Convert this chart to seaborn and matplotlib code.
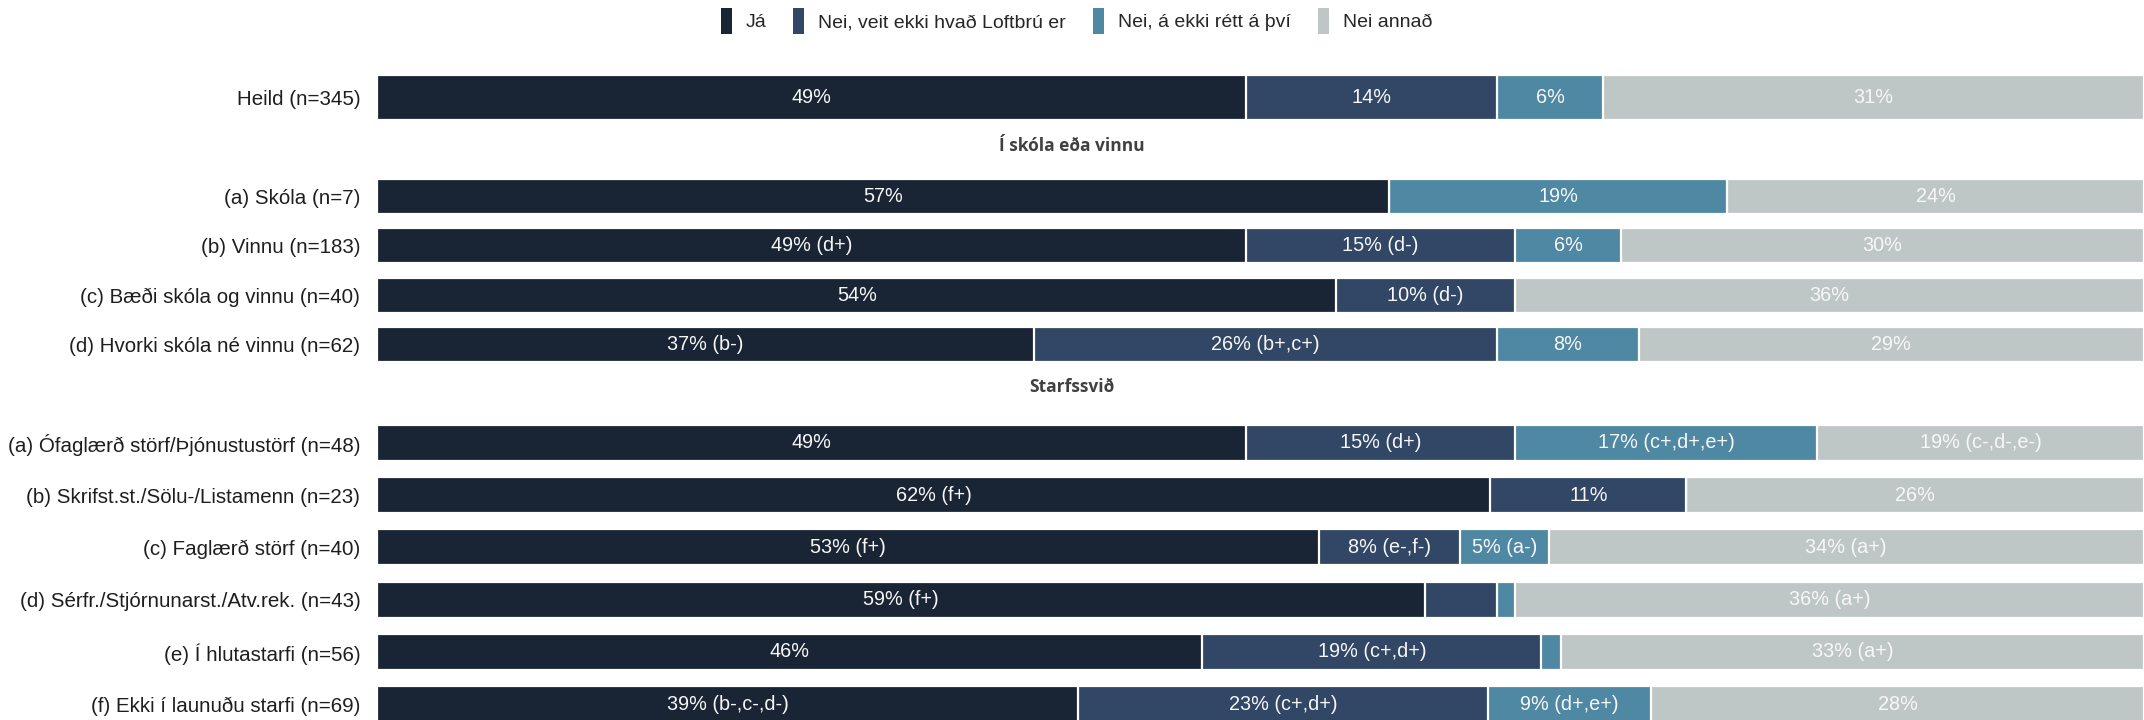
import pandas as pd
import matplotlib.pyplot as plt
import matplotlib.patches as mpatches
import seaborn as sns

# Data

rows = ['Heild (n=345)',
        '(a) Skóla (n=7)',
        '(b) Vinnu (n=183)',
        '(c) Bæði skóla og vinnu (n=40)',
        '(d) Hvorki skóla né vinnu (n=62)',
        '(a) Ófaglærð störf/Þjónustustörf (n=48)',
        '(b) Skrifst.st./Sölu-/Listamenn (n=23)',
        '(c) Faglærð störf (n=40)',
        '(d) Sérfr./Stjórnunarst./Atv.rek. (n=43)',
        '(e) Í hlutastarfi (n=56)',
        '(f) Ekki í launuðu starfi (n=69)']
group = ['heild',
         'Í skóla eða vinnu', 'Í skóla eða vinnu', 'Í skóla eða vinnu', 'Í skóla eða vinnu',
         'Starfssvið', 'Starfssvið', 'Starfssvið', 'Starfssvið', 'Starfssvið', 'Starfssvið']

series = ['Já', 'Nei, veit ekki hvað Loftbrú er', 'Nei, á ekki rétt á því', 'Nei annað']
colors = ['#192534', '#324665', '#4f88a2', '#bfc7c6']

ja = [49.2, 57.3, 49.2, 54.3, 37.2, 49.2, 63.0, 53.3, 59.3, 46.7, 39.7]
nei_veit = [14.2, 0.0, 15.2, 10.1, 26.2, 15.2, 11.1, 8.0, 4.1, 19.2, 23.2]
nei_rett = [6.0, 19.1, 6.0, 0.0, 8.0, 17.1, 0.0, 5.0, 1.0, 1.1, 9.2]
nei_annad = [30.6, 23.6, 29.6, 35.6, 28.6, 18.5, 25.9, 33.7, 35.6, 33.0, 27.9]

lab_ja = ['49%', '57%', '49% (d+)', '54%', '37% (b-)', '49%', '62% (f+)',
          '53% (f+)', '59% (f+)', '46%', '39% (b-,c-,d-)']
lab_veit = ['14%', '', '15% (d-)', '10% (d-)', '26% (b+,c+)', '15% (d+)', '11%',
            '8% (e-,f-)', '', '19% (c+,d+)', '23% (c+,d+)']
lab_rett = ['6%', '19%', '6%', '', '8%', '17% (c+,d+,e+)', '',
            '5% (a-)', '', '', '9% (d+,e+)']
lab_annad = ['31%', '24%', '30%', '36%', '29%', '19% (c-,d-,e-)', '26%',
             '34% (a+)', '36% (a+)', '33% (a+)', '28%']

#############################################

df = pd.DataFrame({'row': rows, 'group': group,
                   'v0': ja, 'v1': nei_veit, 'v2': nei_rett, 'v3': nei_annad,
                   'l0': lab_ja, 'l1': lab_veit, 'l2': lab_rett, 'l3': lab_annad})
vcols = ['v0', 'v1', 'v2', 'v3']
cum = df[vcols].cumsum(axis=1)
for i in range(4):
    df['c%d' % i] = cum['v%d' % i]

sns.set_theme(style='white')
plt.rcParams['font.family'] = ['Liberation Sans', 'DejaVu Sans']

W, H = 2144, 720
fig = plt.figure(figsize=(W / 100, H / 100), dpi=100)

# panel layout in pixels: (top, bottom, bar width)
panels = [('heild', 72.5, 122.5, 0.9),
          ('Í skóla eða vinnu', 171.9, 369.2, 0.71),
          ('Starfssvið', 416.9, 730.1, 0.69)]
left = 377 / W

for name, top, bottom, bw in panels:
    sub = df[df['group'] == name].reset_index(drop=True)
    ax = fig.add_axes([left, 1 - bottom / H, 1 - left, (bottom - top) / H])
    # stacked bars: draw cumulative totals from the longest to the shortest
    for i in [3, 2, 1, 0]:
        sns.barplot(data=sub, x='c%d' % i, y='row', color=colors[i], width=bw,
                    saturation=1, edgecolor='white', linewidth=1.6, ax=ax)
    for j in range(len(sub)):
        for i in range(4):
            txt = sub.loc[j, 'l%d' % i]
            if txt:
                xc = sub.loc[j, 'c%d' % i] - sub.loc[j, 'v%d' % i] / 2
                ax.text(xc, j, txt, ha='center', va='center', color='#f7f7f7', fontsize=14.3)
    ax.set_xlim(0, sub[['c3']].max().iloc[0])
    ax.set_ylim(len(sub) - 0.5, -0.5)
    ax.set_xlabel('')
    ax.set_ylabel('')
    ax.set_xticks([])
    ax.tick_params(axis='y', length=0, pad=12, labelsize=14.8, labelcolor='#1e1e1e')
    sns.despine(ax=ax, left=True, bottom=True)

# section headers
fig.text(0.5, 1 - 146 / H, 'Í skóla eða vinnu', ha='center', va='center',
         fontsize=12.5, fontweight='bold', color='#404040', family=['Open Sans', 'DejaVu Sans'])
fig.text(0.5, 1 - 387 / H, 'Starfssvið', ha='center', va='center',
         fontsize=12.5, fontweight='bold', color='#404040', family=['Open Sans', 'DejaVu Sans'])

# legend
handles = [mpatches.Patch(facecolor=c, edgecolor='none') for c in colors]
fig.legend(handles, series, loc='center', bbox_to_anchor=(0.502, 1 - 21 / H), ncol=4,
           frameon=False, fontsize=14, handlelength=0.57, handleheight=1.7,
           handletextpad=0.7, columnspacing=1.4)

plt.savefig('out.png', dpi=100)
